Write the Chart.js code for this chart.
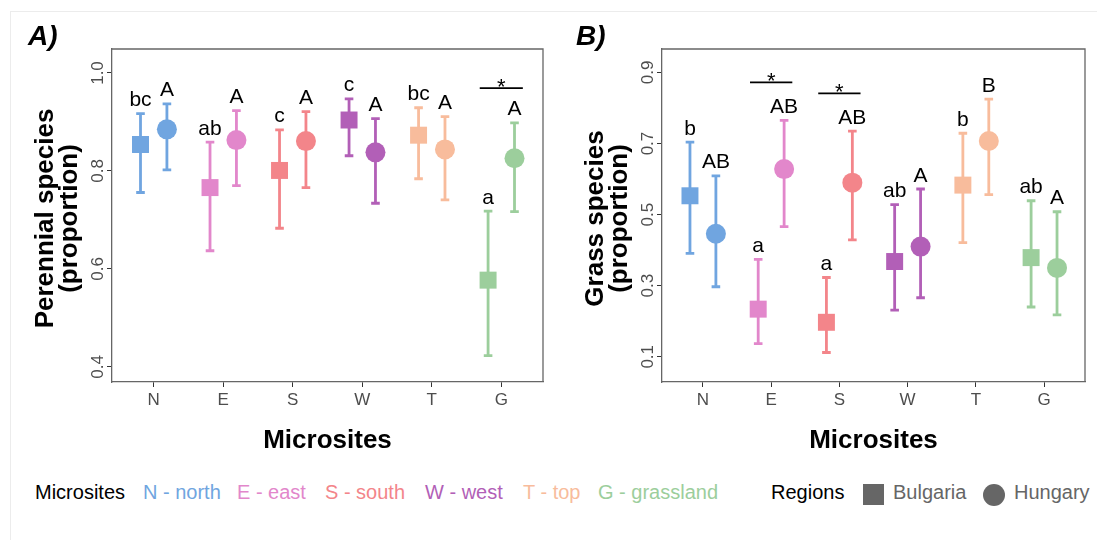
<!DOCTYPE html>
<html><head><meta charset="utf-8">
<script src="https://cdn.jsdelivr.net/npm/chart.js@4/dist/chart.umd.min.js"></script>
<style>
body{margin:0;background:#fff;width:1097px;height:540px;overflow:hidden;position:relative;font-family:"Liberation Sans",Arial,sans-serif;}
#frame{position:absolute;left:10px;top:11px;width:1100px;height:540px;border:1px solid #ececec;}
canvas{position:absolute;top:0;}
#cA{left:0}
#cB{left:555px}
.lg{position:absolute;top:482px;font-size:20px;line-height:20px;white-space:nowrap;}
.sym{position:absolute;background:#666;}
</style></head><body>
<div id="frame"></div>
<canvas id="cA" width="555" height="460"></canvas>
<canvas id="cB" width="542" height="460"></canvas>
<div id="legend"></div>
<script>
// ---------- data ----------
const categories = ['N','E','S','W','T','G'];
const micrositeNames = ['N - north','E - east','S - south','W - west','T - top','G - grassland'];
const micrositeColors = ['#70A5E0','#E287CB','#F3858A','#B25FB7','#F8BC9C','#9CCE9C'];
const regionNames = ['Bulgaria','Hungary'];

// Panel A: perennial species (proportion)
const perTicks = [0.4, 0.6, 0.8, 1.0];
const perBulgariaMean  = [0.854, 0.766, 0.801, 0.904, 0.873, 0.577];
const perBulgariaLower = [0.756, 0.637, 0.683, 0.831, 0.784, 0.423];
const perBulgariaUpper = [0.917, 0.859, 0.884, 0.947, 0.929, 0.718];
const perHungaryMean   = [0.885, 0.863, 0.861, 0.838, 0.844, 0.826];
const perHungaryLower  = [0.802, 0.770, 0.766, 0.734, 0.741, 0.717];
const perHungaryUpper  = [0.937, 0.923, 0.921, 0.907, 0.911, 0.898];
const perBulgariaLetters = ['bc','ab','c','c','bc','a'];
const perHungaryLetters  = ['A','A','A','A','A','A'];
const perStarIndex = [5];
const perStarLevel = [0.969];

// Panel B: grass species (proportion)
const grassTicks = [0.1, 0.3, 0.5, 0.7, 0.9];
const grassBulgariaMean  = [0.553, 0.234, 0.197, 0.368, 0.583, 0.379];
const grassBulgariaLower = [0.391, 0.137, 0.112, 0.231, 0.421, 0.240];
const grassBulgariaUpper = [0.704, 0.374, 0.323, 0.528, 0.729, 0.539];
const grassHungaryMean   = [0.446, 0.628, 0.590, 0.410, 0.707, 0.350];
const grassHungaryLower  = [0.297, 0.466, 0.429, 0.266, 0.556, 0.218];
const grassHungaryUpper  = [0.609, 0.765, 0.735, 0.572, 0.825, 0.508];
const grassBulgariaLetters = ['b','a','a','ab','b','ab'];
const grassHungaryLetters  = ['AB','AB','AB','A','B','A'];
const grassStarIndex = [1, 2];
const grassStarLevel = [0.872, 0.841];

// ---------- styling ----------
const FONT = '"Liberation Sans", Arial, sans-serif';
const DODGE = 0.19;
const CAP = 4.3;
const STAR_HALF = 0.31;

const panelPlugin = {
  id: 'panel',
  beforeDatasetsDraw(chart) {
    const c = chart.options.plugins.panel;
    const {ctx, scales: {x, y}} = chart;
    ctx.save();
    ctx.lineWidth = 2.8;
    [[c.bLow, c.bUp, -DODGE], [c.hLow, c.hUp, DODGE]].forEach(([lo, up, off]) => {
      lo.forEach((v, i) => {
        const px = x.getPixelForValue(i + off);
        const y1 = y.getPixelForValue(v), y2 = y.getPixelForValue(up[i]);
        ctx.strokeStyle = micrositeColors[i];
        ctx.beginPath();
        ctx.moveTo(px, y1); ctx.lineTo(px, y2);
        ctx.moveTo(px - CAP, y1); ctx.lineTo(px + CAP, y1);
        ctx.moveTo(px - CAP, y2); ctx.lineTo(px + CAP, y2);
        ctx.stroke();
      });
    });
    ctx.restore();
  },
  afterDraw(chart) {
    const c = chart.options.plugins.panel;
    const {ctx, chartArea: a, scales: {x, y}} = chart;
    ctx.save();
    // top/right border
    ctx.strokeStyle = '#666'; ctx.lineWidth = 1.3;
    ctx.beginPath();
    ctx.moveTo(a.left, a.top); ctx.lineTo(a.right, a.top); ctx.lineTo(a.right, a.bottom);
    ctx.stroke();
    // letters
    ctx.fillStyle = '#000';
    ctx.font = '21px ' + FONT;
    ctx.textAlign = 'center'; ctx.textBaseline = 'alphabetic';
    [[c.bLet, c.bUp, -DODGE], [c.hLet, c.hUp, DODGE]].forEach(([lets, up, off]) => {
      lets.forEach((t, i) => {
        ctx.fillText(t, x.getPixelForValue(i + off), y.getPixelForValue(up[i]) - 7.5);
      });
    });
    // significance stars
    ctx.strokeStyle = '#000'; ctx.lineWidth = 1.8;
    ctx.font = '22px ' + FONT;
    c.starIdx.forEach((idx, k) => {
      const py = y.getPixelForValue(c.starLvl[k]);
      ctx.beginPath();
      ctx.moveTo(x.getPixelForValue(idx - STAR_HALF), py);
      ctx.lineTo(x.getPixelForValue(idx + STAR_HALF), py);
      ctx.stroke();
      ctx.fillText('*', x.getPixelForValue(idx), py + 5.5);
    });
    // y tick labels (rotated)
    ctx.fillStyle = '#4d4d4d';
    ctx.font = '17px ' + FONT;
    y.ticks.forEach(t => {
      ctx.save();
      ctx.translate(a.left - 9.5, y.getPixelForValue(t.value));
      ctx.rotate(-Math.PI / 2);
      ctx.fillText(t.value.toFixed(1), 0, 0);
      ctx.restore();
    });
    // axis titles
    ctx.fillStyle = '#000';
    ctx.font = 'bold 26px ' + FONT;
    ctx.fillText('Microsites', (a.left + a.right) / 2, 448);
    const midY = (a.top + a.bottom) / 2 + 3;
    c.yTitle.forEach((line, k) => {
      ctx.save();
      ctx.translate(a.left - 59.5 + 24 * k, midY);
      ctx.rotate(-Math.PI / 2);
      ctx.fillText(line, 0, 0);
      ctx.restore();
    });
    // panel label
    ctx.textAlign = 'left';
    ctx.font = 'italic bold 28px ' + FONT;
    ctx.fillText(c.label, c.labelX, 45);
    ctx.restore();
  }
};

function makeChart(id, o) {
  const pts = (arr, off) => arr.map((v, i) => ({x: i + off, y: v}));
  new Chart(document.getElementById(id), {
    type: 'scatter',
    data: {
      datasets: [
        {label: regionNames[0], data: pts(o.bMean, -DODGE), pointStyle: 'rect', pointRadius: 12,
         backgroundColor: micrositeColors, borderWidth: 0},
        {label: regionNames[1], data: pts(o.hMean, DODGE), pointStyle: 'circle', pointRadius: 10,
         backgroundColor: micrositeColors, borderWidth: 0},
        {label: 'centre', data: pts(o.bMean, -DODGE).concat(pts(o.hMean, DODGE)), pointStyle: 'circle',
         pointRadius: 1.3, backgroundColor: '#000', borderWidth: 0}
      ]
    },
    options: {
      responsive: false, animation: false, devicePixelRatio: 1, events: [],
      layout: {padding: {left: 0, top: 49, right: o.padRight, bottom: 38}},
      plugins: {
        legend: {display: false}, tooltip: {enabled: false},
        panel: o
      },
      scales: {
        x: {
          type: 'linear', min: -0.6, max: 5.6,
          afterBuildTicks: s => { s.ticks = categories.map((_, i) => ({value: i})); },
          ticks: {callback: v => categories[v], font: {size: 17, family: FONT}, color: '#4d4d4d',
                  padding: 3, maxRotation: 0, autoSkip: false},
          grid: {drawOnChartArea: false, drawTicks: true, tickLength: 5, color: '#333'},
          border: {display: true, color: '#666', width: 1.3},
          afterFit: s => { s.height = 40; }
        },
        y: {
          type: 'linear', min: o.min, max: o.max,
          afterBuildTicks: s => { s.ticks = o.ticks.map(v => ({value: v})); },
          ticks: {display: false},
          grid: {drawOnChartArea: false, drawTicks: true, tickLength: 5, color: '#333'},
          border: {display: true, color: '#666', width: 1.3},
          afterFit: s => { s.width = o.axisW; }
        }
      }
    },
    plugins: [panelPlugin]
  });
}

makeChart('cA', {
  ticks: perTicks, min: 0.369, max: 1.049,
  bMean: perBulgariaMean, bLow: perBulgariaLower, bUp: perBulgariaUpper,
  hMean: perHungaryMean, hLow: perHungaryLower, hUp: perHungaryUpper,
  bLet: perBulgariaLetters, hLet: perHungaryLetters,
  starIdx: perStarIndex, starLvl: perStarLevel,
  yTitle: ['Perennial species', '(proportion)'], label: 'A)', labelX: 28,
  axisW: 112, padRight: 9
});
makeChart('cB', {
  ticks: grassTicks, min: 0.029, max: 0.966,
  bMean: grassBulgariaMean, bLow: grassBulgariaLower, bUp: grassBulgariaUpper,
  hMean: grassHungaryMean, hLow: grassHungaryLower, hUp: grassHungaryUpper,
  bLet: grassBulgariaLetters, hLet: grassHungaryLetters,
  starIdx: grassStarIndex, starLvl: grassStarLevel,
  yTitle: ['Grass species', '(proportion)'], label: 'B)', labelX: 21,
  axisW: 107, padRight: 4
});

// ---------- legend ----------
const legendLeft = [143, 237, 325, 425, 523, 598];
const lg = document.getElementById('legend');
function addText(txt, left, color) {
  const d = document.createElement('div');
  d.className = 'lg'; d.textContent = txt; d.style.left = left + 'px'; d.style.color = color;
  lg.appendChild(d);
}
addText('Microsites', 35, '#000');
micrositeNames.forEach((n, i) => addText(n, legendLeft[i], micrositeColors[i]));
addText('Regions', 771, '#000');
const sq = document.createElement('div');
sq.className = 'sym'; sq.style.cssText += 'left:863px;top:484px;width:21px;height:21px;';
lg.appendChild(sq);
addText(regionNames[0], 893, '#666');
const ci = document.createElement('div');
ci.className = 'sym'; ci.style.cssText += 'left:983px;top:483.5px;width:22px;height:22px;border-radius:50%;';
lg.appendChild(ci);
addText(regionNames[1], 1014, '#666');
</script>
</body></html>
